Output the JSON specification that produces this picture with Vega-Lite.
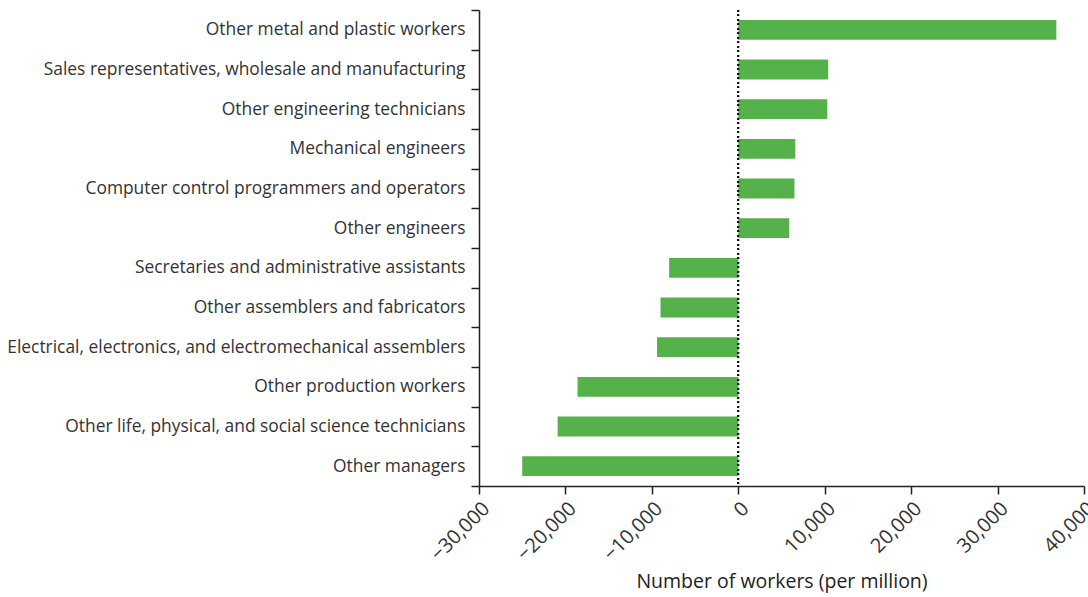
{
  "$schema": "https://vega.github.io/schema/vega-lite/v6.json",
  "autosize": {"type": "none"},
  "width": 605,
  "height": 476,
  "padding": {"left": 479, "top": 10, "right": 4, "bottom": 111},
  "background": "white",
  "config": {"view": {"stroke": null}, "font": "Open Sans"},
  "data": {"values": [
    {"occupation": "Other metal and plastic workers", "value": 36800},
    {"occupation": "Sales representatives, wholesale and manufacturing", "value": 10400},
    {"occupation": "Other engineering technicians", "value": 10300},
    {"occupation": "Mechanical engineers", "value": 6600},
    {"occupation": "Computer control programmers and operators", "value": 6500},
    {"occupation": "Other engineers", "value": 5900},
    {"occupation": "Secretaries and administrative assistants", "value": -8000},
    {"occupation": "Other assemblers and fabricators", "value": -9000},
    {"occupation": "Electrical, electronics, and electromechanical assemblers", "value": -9400},
    {"occupation": "Other production workers", "value": -18600},
    {"occupation": "Other life, physical, and social science technicians", "value": -20900},
    {"occupation": "Other managers", "value": -25000}
  ]},
  "layer": [
    {
      "mark": {"type": "bar", "color": "#55b24a", "height": {"band": 0.5}},
      "encoding": {
        "y": {
          "field": "occupation", "type": "nominal", "sort": null,
          "scale": {"paddingInner": 0, "paddingOuter": 0},
          "axis": {
            "title": null, "tickBand": "extent", "domainColor": "#222", "tickColor": "#222",
            "domainWidth": 1.5, "tickWidth": 1.5, "tickSize": 8,
            "labelFontSize": 17.4, "labelColor": "#333", "labelPadding": 6, "labelLimit": 600
          }
        },
        "x": {
          "field": "value", "type": "quantitative",
          "scale": {"domain": [-30000, 40000], "nice": false},
          "axis": {
            "title": "Number of workers (per million)", "values": [-30000, -20000, -10000, 0, 10000, 20000, 30000, 40000],
            "format": ",.0f", "labelAngle": -45, "grid": false,
            "domainColor": "#222", "tickColor": "#222", "domainWidth": 1.5, "tickWidth": 1.5, "tickSize": 8,
            "labelFontSize": 20, "labelColor": "#333", "labelPadding": 4, "labelOverlap": false, "labelBound": false,
            "titleFontSize": 19.5, "titleFontWeight": "normal", "titleColor": "#222", "titlePadding": 8
          }
        }
      }
    },
    {
      "mark": {"type": "rule", "color": "#111", "strokeDash": [1.5, 3], "strokeWidth": 1.5},
      "encoding": {"x": {"datum": 0}}
    }
  ]
}
